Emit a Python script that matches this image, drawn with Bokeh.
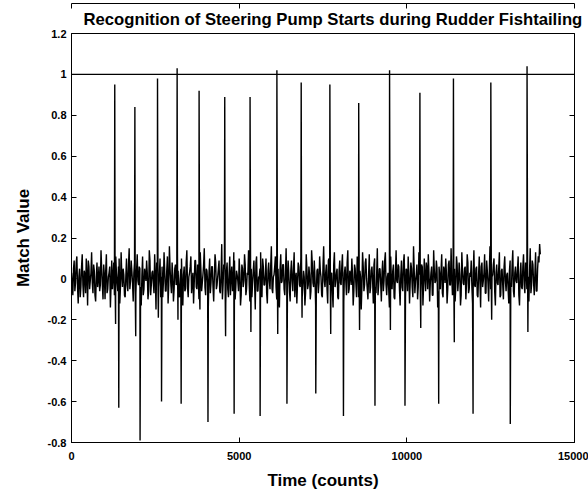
from bokeh.plotting import figure
from bokeh.models import Range1d, LinearAxis, FixedTicker, Span, CustomJSTickFormatter, Title
from bokeh.embed import file_html
from bokeh.resources import INLINE

# ---- data ----
noise_step = 40  # counts between samples of each noise array
noise_values = [
    0.03, -0.08, 0.09, -0.02, 0.11, -0.12, 0.05, -0.04, 0.12, -0.09, 0.02, 0.10, -0.13, 0.06, -0.01, 0.13, -0.07, 0.04, -0.11, 0.08, 0.00, -0.06, 0.14, -0.03, 0.07,
    -0.10, 0.12, -0.05, 0.03, -0.14, 0.09, 0.01, -0.08, 0.11, -0.02, 0.06, -0.12, 0.13, -0.04, 0.02, -0.09, 0.10, -0.06, 0.15, -0.01, 0.04, -0.11, 0.08, -0.07, 0.12,
    -0.03, 0.05, -0.13, 0.11, -0.05, 0.02, 0.09, -0.10, 0.14, -0.08, 0.03, -0.02, 0.12, -0.15, 0.07, -0.04, 0.10, 0.01, -0.09, 0.13, -0.06, 0.04, -0.12, 0.16, -0.02,
    0.08, -0.11, 0.05, -0.03, 0.12, -0.07, 0.00, 0.10, -0.13, 0.06, -0.05, 0.14, -0.09, 0.03, 0.11, -0.01, -0.12, 0.09, -0.04, 0.07, -0.10, 0.13, -0.06, 0.02, 0.15,
    -0.08, 0.04, -0.14, 0.10, -0.02, 0.06, -0.11, 0.12, -0.05, 0.01, 0.09, -0.07, 0.17, -0.03, 0.05, -0.12, 0.08, -0.09, 0.11, 0.02, -0.06, 0.13, -0.10, 0.04, -0.01,
    0.10, -0.13, 0.07, -0.04, 0.12, -0.08, 0.03, 0.14, -0.11, 0.05, -0.02, 0.09, -0.15, 0.11, -0.06, 0.01, 0.13, -0.09, 0.06, -0.03, 0.10, -0.12, 0.08, -0.05, 0.16,
    -0.07, 0.02, 0.11, -0.10, 0.05, -0.14, 0.12, -0.01, 0.07, -0.08, 0.15, -0.04, 0.03, -0.11, 0.09, -0.06, 0.13, 0.00, -0.12, 0.08, -0.03, 0.11, -0.09, 0.04, -0.13,
    0.12, -0.05, 0.06, -0.10, 0.14, -0.02, 0.09, -0.13, 0.04, -0.07, 0.11, 0.01, -0.09, 0.16, -0.04, 0.07, -0.12, 0.10, -0.06, 0.03, -0.14, 0.13, -0.01, 0.05, -0.10,
    0.09, -0.03, 0.12, -0.11, 0.06, -0.08, 0.14, -0.05, 0.02, 0.10, -0.13, 0.07, -0.02, 0.11, -0.09, 0.04, -0.15, 0.13, -0.06, 0.08, 0.00, -0.10, 0.12, -0.04, 0.06,
    -0.12, 0.10, -0.07, 0.15, -0.03, 0.05, -0.11, 0.09, -0.01, 0.13, -0.08, 0.03, -0.14, 0.11, -0.05, 0.07, -0.10, 0.14, -0.02, 0.06, -0.13, 0.09, -0.06, 0.12, -0.09,
    0.04, 0.11, -0.12, 0.08, -0.04, 0.16, -0.07, 0.02, -0.10, 0.13, -0.03, 0.07, -0.13, 0.10, -0.06, 0.05, 0.12, -0.11, 0.03, -0.08, 0.14, -0.02, 0.09, -0.14, 0.06,
    -0.05, 0.12, -0.09, 0.04, 0.10, -0.12, 0.07, -0.03, 0.15, -0.08, 0.01, -0.11, 0.11, -0.06, 0.08, -0.13, 0.13, -0.02, 0.05, -0.10, 0.12, -0.07, 0.03, 0.09, -0.12,
    0.14, -0.04, 0.06, -0.09, 0.11, -0.14, 0.08, -0.01, 0.12, -0.07, 0.04, -0.11, 0.16, -0.05, 0.02, 0.10, -0.13, 0.07, -0.03, 0.13, -0.08, 0.05, -0.10, 0.11, -0.06,
    0.03, -0.12, 0.09, -0.04, 0.14, -0.09, 0.06, -0.02, 0.11, -0.13, 0.08, -0.05, 0.12, -0.07, 0.04, 0.10, -0.11, 0.15, -0.03, 0.07, -0.08, 0.13, -0.06, 0.11, 0.17,
]
# interleaved samples, half a step later
noise_values_b = [
    -0.02, 0.05, -0.06, 0.08, -0.04, 0.01, -0.09, 0.06, -0.03, 0.04, -0.07, 0.02, 0.09, -0.05, 0.03, -0.02, 0.07, -0.08, 0.01, -0.04, 0.06, -0.03, 0.05, -0.10, 0.02,
    0.04, -0.07, 0.01, 0.06, -0.03, -0.05, 0.08, -0.02, 0.03, -0.06, 0.10, -0.04, 0.02, 0.05, -0.08, 0.01, -0.03, 0.07, -0.05, 0.09, -0.02, 0.03, -0.06, 0.04, -0.01,
    0.06, -0.04, 0.02, -0.08, 0.05, -0.01, 0.03, -0.06, 0.09, -0.03, 0.04, -0.07, 0.01, 0.08, -0.05, 0.02, -0.09, 0.06, -0.02, 0.04, -0.06, 0.11, -0.03, 0.05, -0.07,
    0.02, -0.05, 0.07, -0.01, 0.04, -0.09, 0.05, -0.03, 0.02, -0.06, 0.08, -0.04, 0.01, 0.06, -0.07, 0.03, -0.02, 0.09, -0.05, 0.01, -0.08, 0.04, -0.02, 0.07, -0.04,
    0.05, -0.02, 0.03, -0.07, 0.06, -0.04, 0.01, 0.08, -0.03, 0.05, -0.06, 0.02, -0.10, 0.07, -0.01, 0.04, -0.05, 0.03, -0.08, 0.06, -0.02, 0.09, -0.04, 0.02, -0.06,
    0.03, -0.08, 0.05, -0.01, 0.07, -0.05, 0.02, -0.03, 0.06, -0.09, 0.04, -0.02, 0.08, -0.06, 0.01, 0.05, -0.04, 0.10, -0.03, 0.02, -0.07, 0.04, -0.01, 0.06, -0.05,
    0.01, 0.06, -0.04, 0.03, -0.08, 0.05, -0.02, 0.07, -0.05, 0.02, -0.03, 0.09, -0.06, 0.04, -0.01, 0.05, -0.09, 0.03, -0.02, 0.06, -0.04, 0.08, -0.03, 0.01, -0.07,
    0.05, -0.03, 0.02, -0.06, 0.08, -0.04, 0.01, -0.07, 0.05, -0.02, 0.04, -0.08, 0.06, -0.01, 0.03, -0.05, 0.09, -0.03, 0.02, -0.06, 0.07, -0.04, 0.03, -0.09, 0.04,
    -0.02, 0.06, -0.05, 0.03, -0.01, 0.08, -0.07, 0.04, -0.03, 0.02, -0.06, 0.05, -0.09, 0.07, -0.02, 0.01, -0.04, 0.06, -0.03, 0.10, -0.05, 0.02, -0.07, 0.04, -0.01,
    0.07, -0.04, 0.02, -0.08, 0.05, -0.02, 0.03, -0.06, 0.09, -0.03, 0.01, -0.05, 0.06, -0.02, 0.04, -0.09, 0.03, -0.01, 0.07, -0.05, 0.02, -0.04, 0.08, -0.03, 0.05,
    -0.06, 0.03, -0.02, 0.05, -0.09, 0.04, -0.01, 0.07, -0.04, 0.02, -0.07, 0.06, -0.03, 0.01, 0.08, -0.05, 0.03, -0.02, 0.06, -0.08, 0.04, -0.01, 0.05, -0.06, 0.02,
    0.04, -0.07, 0.06, -0.02, 0.03, -0.05, 0.09, -0.03, 0.01, -0.06, 0.05, -0.04, 0.07, -0.01, 0.02, -0.08, 0.04, -0.03, 0.06, -0.02, 0.08, -0.05, 0.01, -0.04, 0.03,
    -0.03, 0.05, -0.08, 0.02, -0.01, 0.06, -0.04, 0.03, -0.07, 0.09, -0.02, 0.04, -0.05, 0.01, 0.07, -0.06, 0.03, -0.02, 0.05, -0.09, 0.04, -0.03, 0.06, -0.01, 0.02,
    -0.05, 0.04, -0.02, 0.07, -0.06, 0.03, -0.01, 0.05, -0.08, 0.02, -0.04, 0.06, -0.03, 0.08, -0.05, 0.01, 0.04, -0.07, 0.09, -0.02, 0.03, -0.06, 0.05, 0.08, 0.12,
]

# pump-start recognitions: positive peaks followed by a short dip
up_times = [1290, 1890, 2565, 3150, 3805, 4570, 5325, 6125, 6850, 7705, 8565, 9485, 10390, 11390, 12505, 13585]
up_peaks = [0.95, 0.84, 0.98, 1.03, 0.92, 0.89, 0.89, 1.02, 0.96, 0.95, 0.86, 1.02, 0.91, 0.98, 0.96, 1.04]
up_dips = [-0.22, -0.28, -0.19, -0.20, -0.15, -0.28, -0.26, -0.27, -0.19, -0.27, -0.25, -0.25, -0.24, -0.31, -0.20, -0.26]
dip_offset = 25

# negative troughs
down_times = [1410, 2045, 2685, 3270, 4070, 4850, 5625, 6425, 7285, 8110, 9050, 9945, 10950, 11975, 13085]
down_troughs = [-0.63, -0.79, -0.60, -0.61, -0.70, -0.66, -0.67, -0.61, -0.56, -0.67, -0.62, -0.62, -0.61, -0.66, -0.71]

threshold = 1.0

title_text = "Recognition of Steering Pump Starts during Rudder Fishtailing"
x_label = "Time (counts)"
y_label = "Match Value"
x_ticks = [0, 5000, 10000, 15000]
y_ticks = [-0.8, -0.6, -0.4, -0.2, 0, 0.2, 0.4, 0.6, 0.8, 1.0, 1.2]

# ---- build the series ----
points = [(i * noise_step, v) for i, v in enumerate(noise_values)]
points += [(i * noise_step + noise_step // 2, v) for i, v in enumerate(noise_values_b)]
points += list(zip(up_times, up_peaks))
points += [(t + dip_offset, d) for t, d in zip(up_times, up_dips)]
points += list(zip(down_times, down_troughs))
points.sort(key=lambda p: p[0])
xs = [p[0] for p in points]
ys = [p[1] for p in points]

FONT = "Liberation Sans"

p = figure(width=588, height=499, output_backend="svg", toolbar_location=None,
           x_range=Range1d(0, 15000), y_range=Range1d(-0.8, 1.2),
           min_border_left=71, min_border_right=14, min_border_top=33, min_border_bottom=57,
           x_axis_location=None, y_axis_location=None)
p.background_fill_color = "white"
p.border_fill_color = "white"
p.outline_line_color = "black"
p.grid.visible = False

p.add_layout(Title(text=title_text, align="left", offset=12, text_font=FONT, text_font_size="16.7px",
                   text_font_style="bold", text_color="black", standoff=9), "above")

ytick_fmt = CustomJSTickFormatter(code="return tick.toFixed(1).replace(/\\.0$/, '');")


def style_axis(ax, labels=True):
    ax.major_tick_in = 5
    ax.major_tick_out = 0
    ax.minor_tick_line_color = None
    ax.axis_line_color = "black"
    ax.major_tick_line_color = "black"
    ax.major_label_text_font = FONT
    ax.major_label_text_font_size = "11px"
    ax.major_label_text_font_style = "bold"
    ax.major_label_text_color = "black" if labels else None
    ax.axis_label_text_font = FONT
    ax.axis_label_text_font_size = "17px"
    ax.axis_label_text_font_style = "bold"
    ax.axis_label_text_color = "black"


xb = LinearAxis(ticker=FixedTicker(ticks=x_ticks), axis_label=x_label)
style_axis(xb)
xb.major_label_standoff = 9
xb.axis_label_standoff = 8
p.add_layout(xb, "below")

yl = LinearAxis(ticker=FixedTicker(ticks=y_ticks), formatter=ytick_fmt, axis_label=y_label)
style_axis(yl)
yl.major_label_standoff = 5
yl.axis_label_standoff = 12
p.add_layout(yl, "left")

xt = LinearAxis(ticker=FixedTicker(ticks=x_ticks))
style_axis(xt, labels=False)
xt.major_label_text_font_size = "0px"
xt.major_label_standoff = 0
p.add_layout(xt, "above")

yr = LinearAxis(ticker=FixedTicker(ticks=y_ticks))
style_axis(yr, labels=False)
yr.major_label_text_font_size = "0px"
yr.major_label_standoff = 0
p.add_layout(yr, "right")

p.line(xs, ys, line_color="black", line_width=1.4)
p.add_layout(Span(location=threshold, dimension="width", line_color="black", line_width=1.2))

open("out.html", "w").write(file_html(p, INLINE))
